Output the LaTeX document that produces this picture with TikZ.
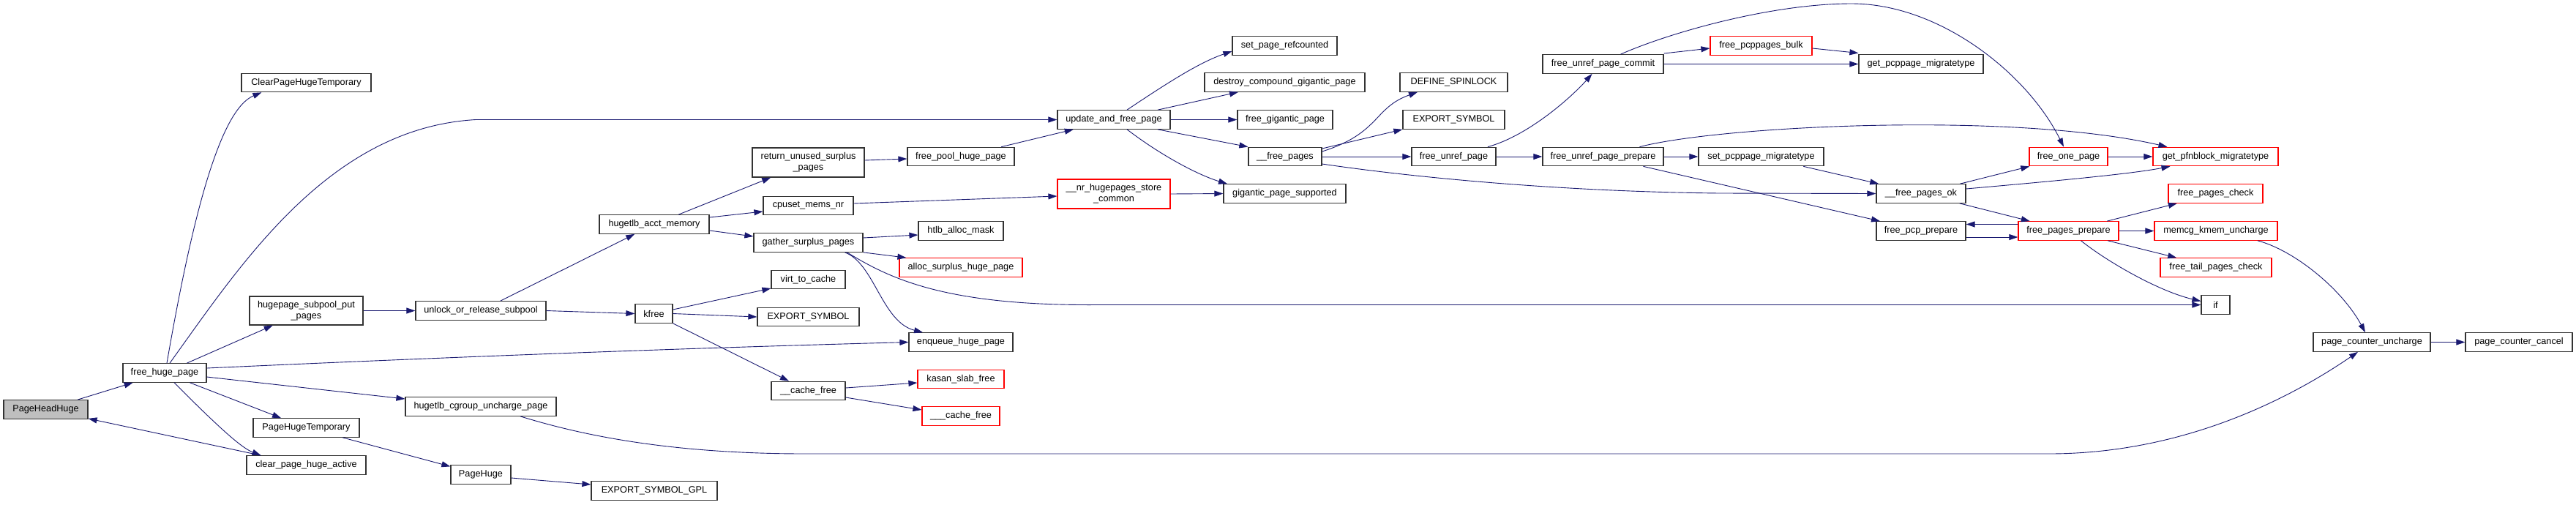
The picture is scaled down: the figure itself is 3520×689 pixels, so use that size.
\documentclass[tikz,border=0pt]{standalone}
\usepackage{fontspec}
\setmainfont{Liberation Sans}
\usetikzlibrary{arrows.meta}
\definecolor{edgeblue}{RGB}{25,25,112}
\definecolor{truncred}{RGB}{255,0,0}
\definecolor{rootgray}{RGB}{191,191,191}

\begin{document}
\begin{tikzpicture}[x=1pt, y=-1pt,
  fn/.style={draw=black!80, line width=1.2pt, inner sep=0pt,
    minimum height=25.5pt, align=center,
    font=\fontsize{12.7}{15}\selectfont},
  trunc/.style={fn, draw=truncred},
  root/.style={fn, fill=rootgray},
  arr/.style={-{Triangle[length=12pt,width=8pt]}, line width=0.9pt,
    color=edgeblue}]
\useasboundingbox (0,0) rectangle (3520,689);
\node[root, minimum width=115pt] (phh) at (62.5,559.5) {PageHeadHuge};
\node[fn, minimum width=114pt] (fhp) at (225,509.5) {free\_huge\_page};
\node[fn, minimum width=177pt] (cpht) at (418.5,113) {ClearPageHugeTemporary};
\node[fn, minimum width=155pt, minimum height=39pt] (hspp) at (418.5,424.5)
  {hugepage\_subpool\_put\\\_pages};
\node[fn, minimum width=145pt] (pht) at (418.5,584.5) {PageHugeTemporary};
\node[fn, minimum width=163pt] (cpha) at (418.5,635.5) {clear\_page\_huge\_active};
\node[fn, minimum width=178pt] (uors) at (657,424.5) {unlock\_or\_release\_subpool};
\node[fn, minimum width=206pt] (hcup) at (657,555.5) {hugetlb\_cgroup\_uncharge\_page};
\node[fn, minimum width=82pt] (ph) at (657,648.5) {PageHuge};
\node[fn, minimum width=150pt] (acct) at (894,306.5) {hugetlb\_acct\_memory};
\node[fn, minimum width=51pt] (kfree) at (893.5,428.5) {kfree};
\node[fn, minimum width=172pt] (esg) at (894,670.5) {EXPORT\_SYMBOL\_GPL};
\node[fn, minimum width=153pt, minimum height=40pt] (rusp) at (1104.5,222)
  {return\_unused\_surplus\\\_pages};
\node[fn, minimum width=123pt] (cmn) at (1104.5,281) {cpuset\_mems\_nr};
\node[fn, minimum width=149pt] (gsp) at (1104.5,331.5) {gather\_surplus\_pages};
\node[fn, minimum width=101pt] (vtc) at (1104.5,382) {virt\_to\_cache};
\node[fn, minimum width=139pt] (esa) at (1104.5,433) {EXPORT\_SYMBOL};
\node[fn, minimum width=101pt] (cf) at (1104.5,534) {\_\_cache\_free};
\node[fn, minimum width=146pt] (fphp) at (1313,214) {free\_pool\_huge\_page};
\node[fn, minimum width=116pt] (mask) at (1313,315.5) {htlb\_alloc\_mask};
\node[trunc, minimum width=168pt] (ashp) at (1313,365.5) {alloc\_surplus\_huge\_page};
\node[fn, minimum width=142pt] (ehp) at (1313,467.5) {enqueue\_huge\_page};
\node[trunc, minimum width=118pt] (ksf) at (1313,518) {kasan\_slab\_free};
\node[trunc, minimum width=106pt] (tcf) at (1313,568.5) {\_\_\_cache\_free};
\node[fn, minimum width=154pt] (uafp) at (1522,163.5) {update\_and\_free\_page};
\node[trunc, minimum width=154pt, minimum height=40pt] (nhsc) at (1522,265)
  {\_\_nr\_hugepages\_store\\\_common};
\node[fn, minimum width=143pt] (spr) at (1755.5,62.5) {set\_page\_refcounted};
\node[fn, minimum width=219pt] (dcgp) at (1755.5,112.5) {destroy\_compound\_gigantic\_page};
\node[fn, minimum width=130pt] (fgp) at (1756,163.5) {free\_gigantic\_page};
\node[fn, minimum width=100pt] (fps) at (1756,214) {\_\_free\_pages};
\node[fn, minimum width=167pt] (gps) at (1755.5,264.5) {gigantic\_page\_supported};
\node[fn, minimum width=147pt] (dsl) at (1986.5,112.5) {DEFINE\_SPINLOCK};
\node[fn, minimum width=139pt] (esb) at (1986.5,163.5) {EXPORT\_SYMBOL};
\node[fn, minimum width=115pt] (fup) at (1986.5,214) {free\_unref\_page};
\node[fn, minimum width=165pt] (fupc) at (2190.5,87.5) {free\_unref\_page\_commit};
\node[fn, minimum width=165pt] (fupp) at (2190.5,214) {free\_unref\_page\_prepare};
\node[trunc, minimum width=139pt] (fpb) at (2406.5,62.5) {free\_pcppages\_bulk};
\node[fn, minimum width=171pt] (spm) at (2406.5,214) {set\_pcppage\_migratetype};
\node[fn, minimum width=170pt] (gpm) at (2625,87.5) {get\_pcppage\_migratetype};
\node[fn, minimum width=122pt] (fpo) at (2625,264.5) {\_\_free\_pages\_ok};
\node[fn, minimum width=122pt] (fpcp) at (2625,315.5) {free\_pcp\_prepare};
\node[trunc, minimum width=107pt] (fop) at (2826.5,214) {free\_one\_page};
\node[trunc, minimum width=137pt] (fpp) at (2826.5,315.5) {free\_pages\_prepare};
\node[trunc, minimum width=171pt] (gpfn) at (3027.5,214) {get\_pfnblock\_migratetype};
\node[trunc, minimum width=129pt] (fpc) at (3027.5,264.5) {free\_pages\_check};
\node[trunc, minimum width=168pt] (mku) at (3028,315.5) {memcg\_kmem\_uncharge};
\node[trunc, minimum width=152pt] (ftpc) at (3028,365.5) {free\_tail\_pages\_check};
\node[fn, minimum width=39pt] (ifnode) at (3027.5,416.5) {if};
\node[fn, minimum width=160pt] (pcu) at (3241,467.5) {page\_counter\_uncharge};
\node[fn, minimum width=146pt] (pcc) at (3442,467.5) {page\_counter\_cancel};
\draw[arr] (phh) -- (fhp);
\draw[arr] (cpha) -- (phh);
\draw[arr] ([xshift=3pt]fhp.north) .. controls (262,300) and (300,150) .. ([xshift=28pt]cpht.south west);
\draw[arr] ([xshift=7pt]fhp.north) .. controls (330,360) and (450,175) .. (650,163.5) -- (uafp.west);
\draw[arr] (fhp) -- (hspp);
\draw[arr] ([yshift=6.5pt]fhp.east) .. controls (700,484) and (1000,474) .. (ehp.west);
\draw[arr] ([yshift=-5.5pt]fhp.east) -- ([yshift=10.5pt]hcup.west);
\draw[arr] (fhp) -- (pht);
\draw[arr] ([xshift=13pt]fhp.south) .. controls (300,585) and (330,612) .. ([xshift=-62pt]cpha.north);
\draw[arr] (hspp.east) -- (uors.west);
\draw[arr] (uors) -- (acct);
\draw[arr] (uors.east) -- (kfree.west);
\draw[arr] (acct) -- (rusp);
\draw[arr] ([yshift=9.5pt]acct.east) -- ([yshift=-8pt]cmn.west);
\draw[arr] ([yshift=-8.5pt]acct.east) -- ([yshift=8.5pt]gsp.west);
\draw[arr] ([yshift=5.5pt]kfree.east) -- ([yshift=-12pt]vtc.west);
\draw[arr] (kfree.east) -- (esa.west);
\draw[arr] (kfree.south east) -- ([xshift=-26.5pt]cf.north);
\draw[arr] ([yshift=3pt]rusp.east) -- ([yshift=-3pt]fphp.west);
\draw[arr] (fphp) -- (uafp);
\draw[arr] ([yshift=3pt]cmn.east) -- ([yshift=-3pt]nhsc.west);
\draw[arr] (nhsc.east) -- (gps.west);
\draw[arr] ([yshift=6.5pt]gsp.east) -- ([yshift=-5.5pt]mask.west);
\draw[arr] (gsp.south east) -- ([xshift=10pt]ashp.north west);
\draw[arr] ([xshift=50pt]gsp.south) .. controls (1195,360) and (1205,440) .. ([xshift=-52pt]ehp.north);
\draw[arr] ([xshift=53pt]gsp.south) .. controls (1215,380) and (1290,418) .. (1500,416.5) -- (ifnode.west);
\draw[arr] ([yshift=4pt]cf.east) -- ([yshift=-5pt]ksf.west);
\draw[arr] ([yshift=-9pt]cf.east) -- ([yshift=8.5pt]tcf.west);
\draw[arr] ([xshift=54pt]hcup.south) .. controls (780,590) and (900,620) .. (1100,620) -- (2800,620)
  .. controls (3000,620) and (3150,530) .. ([xshift=-19pt]pcu.south);
\draw[arr] (pht) -- (ph);
\draw[arr] ([yshift=-4.5pt]ph.east) -- ([yshift=8.5pt]esg.west);
\draw[arr] ([xshift=18pt]uafp.north) .. controls (1600,110) and (1640,85) .. ([yshift=-7.5pt]spr.west);
\draw[arr] ([xshift=60pt]uafp.north) -- ([xshift=-63.5pt]dcgp.south);
\draw[arr] (uafp.east) -- (fgp.west);
\draw[arr] ([xshift=60pt]uafp.south) -- (fps.north west);
\draw[arr] ([xshift=18pt]uafp.south) .. controls (1590,215) and (1640,240) .. ([xshift=-78.5pt]gps.north);
\draw[arr] ([yshift=7pt]fps.east) .. controls (1886,182) and (1877,147) .. ([xshift=-49.5pt]dsl.south);
\draw[arr] ([yshift=11pt]fps.east) -- (esb.south west);
\draw[arr] (fps.east) -- (fup.west);
\draw[arr] ([yshift=-10pt]fps.east) .. controls (1950,245) and (2150,262) .. (2350,264) -- (fpo.west);
\draw[arr] ([xshift=46.5pt]fup.north) .. controls (2090,185) and (2150,130) .. ([xshift=-15pt]fupc.south);
\draw[arr] (fup.east) -- (fupp.west);
\draw[arr] ([yshift=14.5pt]fupc.east) -- ([yshift=-3.5pt]fpb.west);
\draw[arr] (fupc.east) -- (gpm.west);
\draw[arr] ([xshift=24pt]fupc.north) .. controls (2280,45) and (2420,5) .. (2530,5)
  .. controls (2650,5) and (2770,100) .. ([xshift=-6.5pt]fop.north);
\draw[arr] ([yshift=-3.5pt]fpb.east) -- ([yshift=15pt]gpm.west);
\draw[arr] (fupp.east) -- (spm.west);
\draw[arr] ([xshift=55pt]fupp.south) -- ([xshift=-56pt]fpcp.north);
\draw[arr] ([xshift=50pt]fupp.north) .. controls (2350,172) and (2750,152) .. ([xshift=-66pt]gpfn.north);
\draw[arr] (spm) -- (fpo);
\draw[arr] (fpo) -- (fop);
\draw[arr] ([yshift=6.5pt]fpo.east) .. controls (2800,248) and (2910,238) .. ([xshift=-62pt]gpfn.south);
\draw[arr] (fpo) -- (fpp);
\draw[arr] ([yshift=-8.5pt]fpcp.east) -- ([yshift=-8.5pt]fpp.west);
\draw[arr] ([yshift=9pt]fpp.west) -- ([yshift=9pt]fpcp.east);
\draw[arr] (fop.east) -- (gpfn.west);
\draw[arr] (fpp) -- (fpc);
\draw[arr] (fpp.east) -- (mku.west);
\draw[arr] (fpp) -- (ftpc);
\draw[arr] ([xshift=17pt]fpp.south) .. controls (2880,358) and (2950,398) .. ([yshift=5pt]ifnode.west);
\draw[arr] ([xshift=57pt]mku.south) .. controls (3135,342) and (3200,395) .. ([xshift=-9pt]pcu.north);
\draw[arr] (pcu.east) -- (pcc.west);
\end{tikzpicture}
\end{document}
